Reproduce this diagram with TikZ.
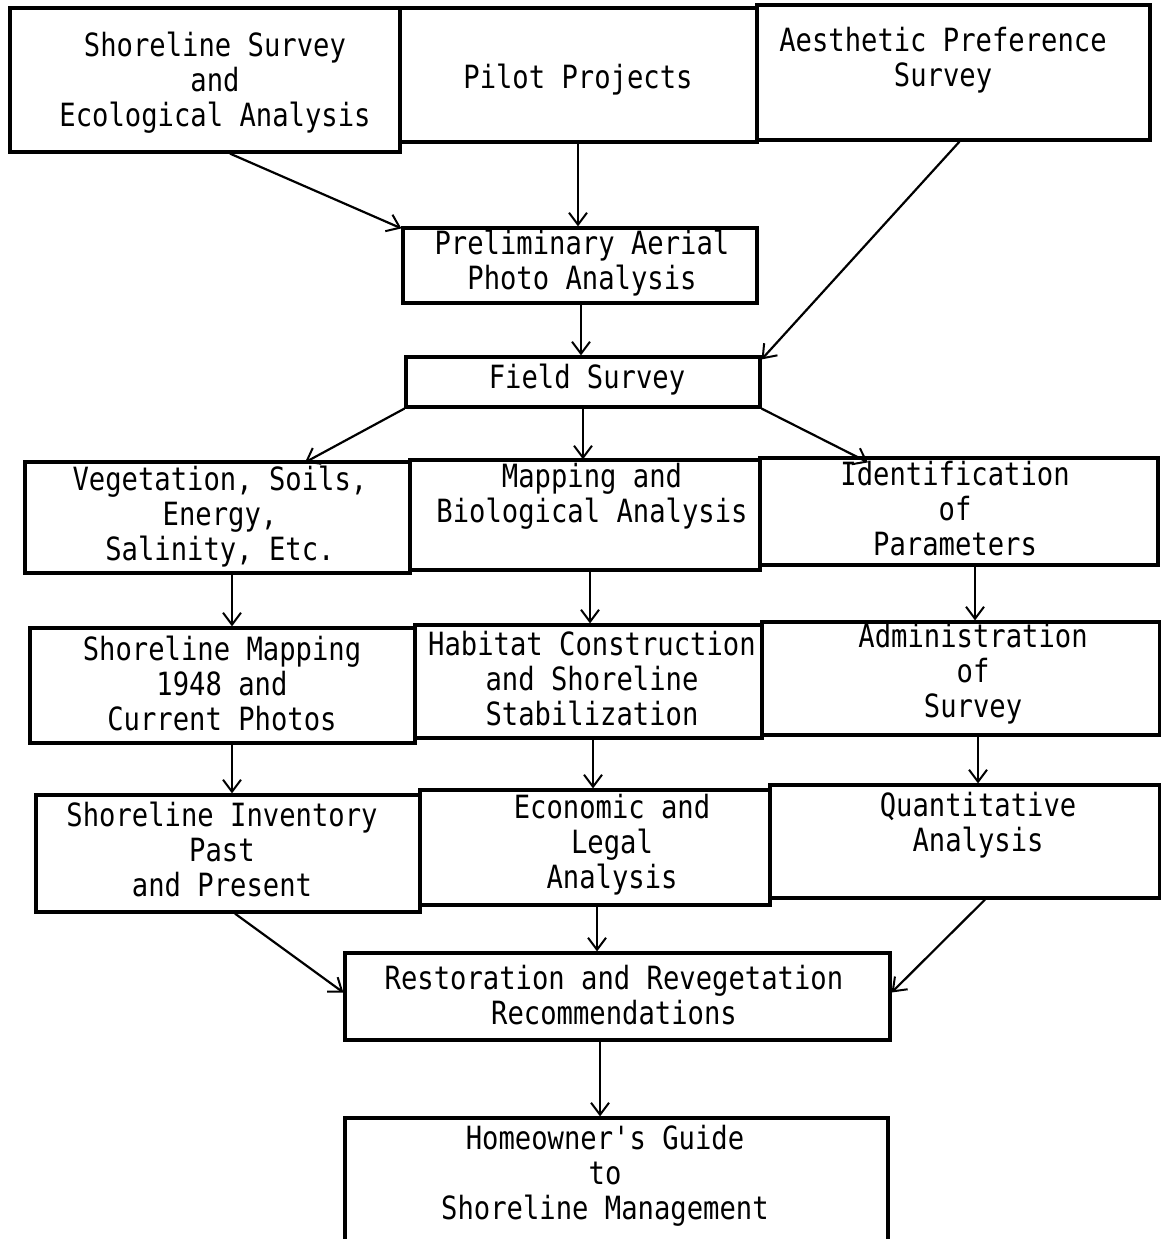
\documentclass[tikz,border=0pt]{standalone}
\usepackage{fontspec}
\newfontfamily\tw[FakeStretch=0.85]{DejaVu Sans Mono}
\usetikzlibrary{arrows.meta}
\begin{document}
\begin{tikzpicture}[x=1pt,y=-1pt,
  box/.style={draw=black,line width=3.2pt,rectangle,inner sep=0pt},
  txt/.style={align=center,inner sep=0pt,font=\tw\fontsize{32}{35}\selectfont},
  arr/.style={line width=2.2pt,-{Straight Barb[length=12pt,width=18pt,line width=2pt]}}]
\useasboundingbox (0,0) rectangle (1161,1239);
\clip (0,0) rectangle (1161,1239);
% boxes
\node[box,minimum width=390pt,minimum height=144pt] (A) at (205,80) {};
\node[box,minimum width=357pt,minimum height=134pt] (B) at (578.5,75) {};
\node[box,minimum width=393pt,minimum height=135pt] (C) at (953.5,72.5) {};
\node[box,minimum width=354pt,minimum height=75pt] (D) at (580,265.5) {};
\node[box,minimum width=354pt,minimum height=50pt] (E) at (583,382) {};
\node[box,minimum width=385pt,minimum height=111pt] (F) at (217.5,517.5) {};
\node[box,minimum width=350pt,minimum height=110pt] (G) at (585,515) {};
\node[box,minimum width=398pt,minimum height=107pt] (H) at (959,511.5) {};
\node[box,minimum width=385pt,minimum height=115pt] (I) at (222.5,685.5) {};
\node[box,minimum width=347pt,minimum height=113pt] (J) at (588.5,681.5) {};
\node[box,minimum width=398pt,minimum height=113pt] (K) at (961,678.5) {};
\node[box,minimum width=384pt,minimum height=117pt] (L) at (228,853.5) {};
\node[box,minimum width=350pt,minimum height=115pt] (M) at (595,847.5) {};
\node[box,minimum width=390pt,minimum height=113pt] (N) at (965,841.5) {};
\node[box,minimum width=545pt,minimum height=87pt] (O) at (617.5,996.5) {};
\node[box,minimum width=543pt,minimum height=132pt] (P) at (616.5,1184) {};
% texts
\node[txt] (tA) at (215,83) {Shoreline Survey\\and\\Ecological Analysis};
\node[txt] (tB) at (578,80) {Pilot Projects};
\node[txt] (tC) at (943,60) {Aesthetic Preference\\Survey};
\node[txt] (tD) at (582,263) {Preliminary Aerial\\Photo Analysis};
\node[txt] (tE) at (587,380) {Field Survey};
\node[txt] (tF) at (220,517) {Vegetation, Soils,\\Energy,\\Salinity, Etc.};
\node[txt] (tG) at (592,496) {Mapping and\\Biological Analysis};
\node[txt] (tH) at (955,509) {Identification\\of\\Parameters};
\node[txt] (tI) at (222,683) {Shoreline Mapping\\1948 and\\Current Photos};
\node[txt] (tJ) at (592,679) {Habitat Construction\\and Shoreline\\Stabilization};
\node[txt] (tK) at (973,674) {Administration\\of\\Survey};
\node[txt] (tL) at (222,849) {Shoreline Inventory\\Past\\and Present};
\node[txt] (tM) at (612,845) {Economic and\\Legal\\Analysis};
\node[txt] (tN) at (978,825) {Quantitative\\Analysis};
\node[txt] (tO) at (614,995) {Restoration and Revegetation\\Recommendations};
\node[txt] (tP) at (605,1176) {Homeowner's Guide\\to\\Shoreline Management};
% arrows
\draw[arr] ([xshift=25pt]A.south) -- ([yshift=-2pt]D.north west);
\draw[arr] ([xshift=-0.5pt]B.south) -- ([xshift=-2pt]D.north);
\draw[arr] ([xshift=6pt]C.south) -- ([yshift=-4pt]E.north east);
\draw[arr] ([xshift=1pt]D.south) -- ([xshift=-2pt]E.north);
\draw[arr] (E.south west) -- ([xshift=87.5pt,yshift=-2pt]F.north);
\draw[arr] (E.south) -- ([xshift=-2pt,yshift=-1pt]G.north);
\draw[arr] (E.south east) -- ([xshift=-91pt,yshift=-6pt]H.north);
\draw[arr] ([xshift=14.5pt]F.south) -- ([xshift=9.5pt]I.north);
\draw[arr] ([xshift=5pt]G.south) -- ([xshift=1.5pt]J.north);
\draw[arr] ([xshift=16pt]H.south) -- ([xshift=14pt]K.north);
\draw[arr] ([xshift=9.5pt]I.south) -- ([xshift=4pt]L.north);
\draw[arr] ([xshift=4.5pt]J.south) -- ([xshift=-2pt]M.north);
\draw[arr] ([xshift=17pt]K.south) -- ([xshift=13pt]N.north);
\draw[arr] ([xshift=7pt]L.south) -- ([yshift=4pt]O.west);
\draw[arr] ([xshift=2pt]M.south) -- ([xshift=-20.5pt]O.north);
\draw[arr] ([xshift=20pt]N.south) -- ([yshift=4pt]O.east);
\draw[arr] ([xshift=-17.5pt]O.south) -- ([xshift=-16.5pt]P.north);
\end{tikzpicture}
\end{document}
